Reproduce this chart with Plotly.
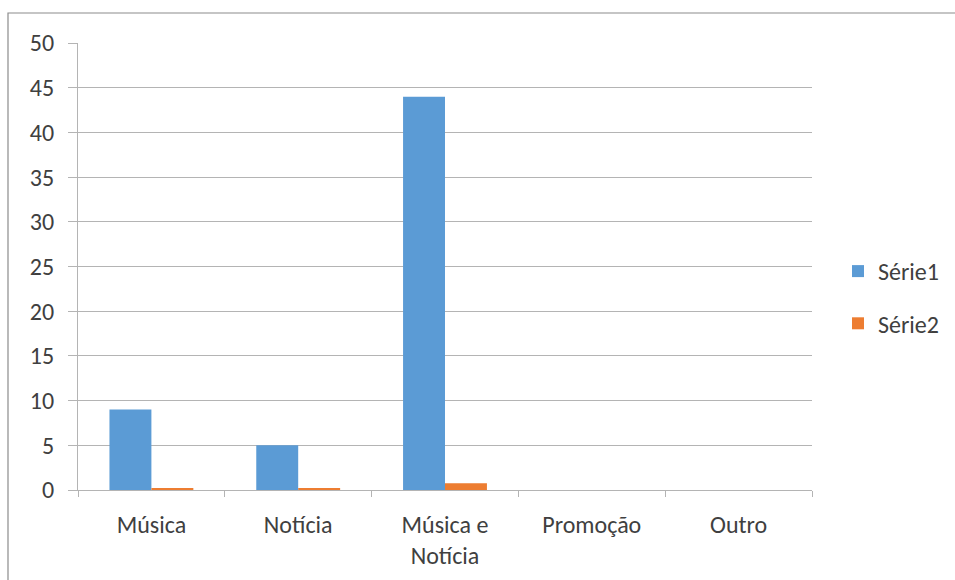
import plotly.graph_objects as go

# Categories and series values
categories = ["Música", "Notícia", "Música e<br>Notícia", "Promoção", "Outro"]
serie1 = [9, 5, 44, 0, 0]
serie2 = [0.15, 0.15, 0.76, 0, 0]
y_ticks = [0, 5, 10, 15, 20, 25, 30, 35, 40, 45, 50]

FONT = "Carlito, Calibri, Lato, 'Open Sans', sans-serif"
TEXT = "#404040"
GRID = "#b4b4b4"
FS = 24

fig = go.Figure()
fig.add_trace(go.Bar(x=categories, y=serie1, name="Série1",
                     marker=dict(color="#5b9bd5", line=dict(width=0)),
                     legendgroup="s1"))
fig.add_trace(go.Bar(x=categories, y=serie2, name="Série2",
                     marker=dict(color="#ed7d31", line=dict(width=0)),
                     legendgroup="s2"))

# Plot area geometry (pixels) used for the outer frame
L, R, T, B = 78, 143, 43, 90
W, H = 955 - L - R, 580 - T - B

fig.update_layout(
    width=955, height=580,
    margin=dict(l=L, r=R, t=T, b=B, autoexpand=False),
    paper_bgcolor="white", plot_bgcolor="white",
    barmode="group", bargap=1.5 / 3.5, bargroupgap=0,
    font=dict(family=FONT, size=FS, color=TEXT),
    showlegend=True,
    legend=dict(x=(838 - L) / W, y=(490 - 249) / H, xanchor="left", yanchor="top",
                font=dict(size=FS, color=TEXT), tracegroupgap=18,
                itemwidth=30, bgcolor="rgba(0,0,0,0)"),
    xaxis=dict(showgrid=False, showline=True, linecolor=GRID, linewidth=1,
               ticks="outside", tickson="boundaries", ticklen=6, tickcolor=GRID,
               tickfont=dict(size=FS, color=TEXT), fixedrange=True,
               ticklabelstandoff=13),
    yaxis=dict(range=[0, 50], tickvals=y_ticks, showgrid=True, gridcolor=GRID,
               gridwidth=1, showline=True, linecolor=GRID, linewidth=1,
               ticks="outside", ticklen=9, tickcolor=GRID, zeroline=False,
               tickfont=dict(size=FS, color=TEXT), ticklabelstandoff=9),
    shapes=[dict(type="rect", xref="paper", yref="paper",
                 x0=(8 - L) / W, x1=2, y0=-1, y1=(490 - 13) / H,
                 line=dict(color="#8c8c8c", width=1.2), fillcolor="rgba(0,0,0,0)",
                 layer="below")],
)

fig.write_html("out.html")
